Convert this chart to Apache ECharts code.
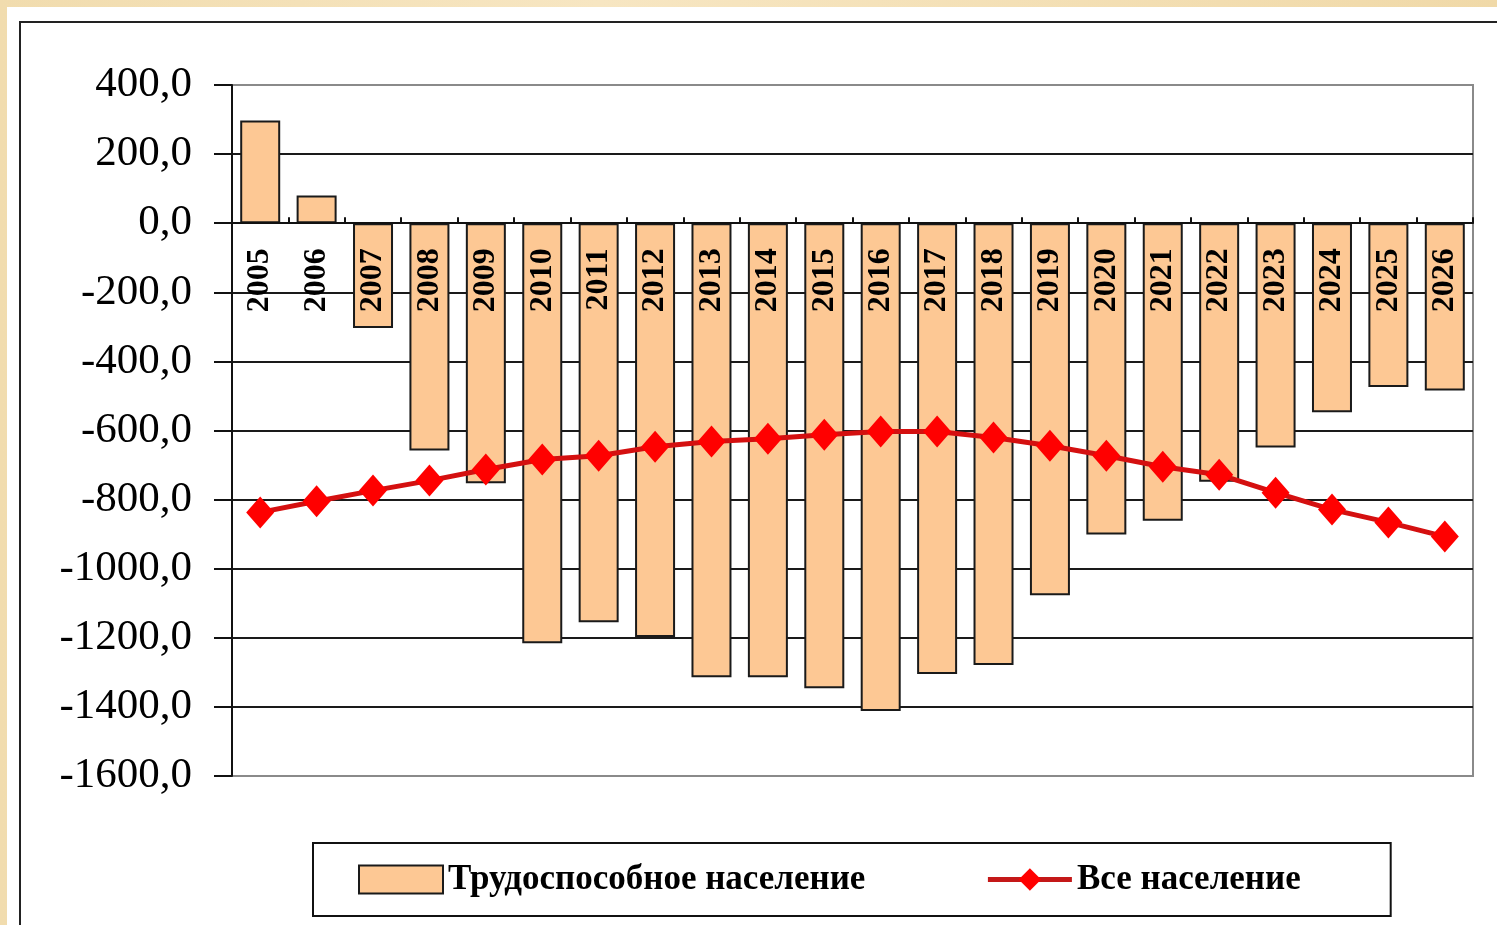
<!DOCTYPE html>
<html>
<head>
<meta charset="utf-8">
<script src="https://cdn.jsdelivr.net/npm/echarts@6/dist/echarts.min.js"></script>
<style>
  html, body {
    margin: 0;
    padding: 0;
    width: 1497px;
    height: 925px;
    overflow: hidden;
    background: linear-gradient(90deg, #f1dcae 0%, #f7e6c2 40%, #f0d9a8 100%);
  }
  .sheet {
    position: absolute;
    left: 7px;
    top: 7px;
    right: 0;
    bottom: 0;
    background: #ffffff;
  }
  .frame {
    position: absolute;
    left: 19px;
    top: 21px;
    width: 2000px;
    height: 2000px;
    border: 2px solid #222;
  }
  #chart {
    position: absolute;
    left: 0;
    top: 0;
    width: 1497px;
    height: 925px;
  }
</style>
</head>
<body>
<div class="sheet"></div>
<div class="frame"></div>
<div id="chart"></div>
<script>
  const years = ['2005', '2006', '2007', '2008', '2009', '2010', '2011', '2012', '2013', '2014', '2015',
    '2016', '2017', '2018', '2019', '2020', '2021', '2022', '2023', '2024', '2025', '2026']

  // Трудоспособное население
  const workingAge = [297, 80, -303, -658, -753, -1216, -1155, -1198, -1314, -1314, -1346,
    -1412, -1305, -1279, -1077, -901, -861, -748, -649, -547, -474, -484]

  // Все население
  const allPopulation = [-837, -805, -774, -745, -713, -684, -673, -647, -632, -624, -612,
    -603, -603, -620, -644, -673, -705, -728, -780, -829, -866, -907]

  const seriesNames = ['Трудоспособное население', 'Все население']

  const serif = "'Liberation Serif', 'Times New Roman', serif"

  const yMin = -1600
  const yMax = 400
  const gridTop = 85
  const gridBottom = 149
  const chartHeight = 925

  const chart = echarts.init(document.getElementById('chart'))

  // верхняя и нижняя линии сетки серые, как рамка области построения
  const splitColors = []
  for (let i = 0; i <= 10; i++) {
    splitColors.push(i === 0 || i === 10 ? '#8a8a8a' : '#1a1a1a')
  }

  // onZero в v6 не сработал — сдвигаем ось категорий к нулю через offset
  const plotHeight = chartHeight - gridTop - gridBottom
  const zeroOffset = -plotHeight * (0 - yMin) / (yMax - yMin)

  const option = {
    animation: false,
    backgroundColor: 'transparent',
    grid: {
      left: 232,
      right: 24,
      top: gridTop,
      bottom: gridBottom,
      show: true,
      backgroundColor: 'transparent',
      borderColor: '#8a8a8a',
      borderWidth: 2,
    },
    legend: {
      data: [
        { name: seriesNames[0], icon: 'rect' },
        { name: seriesNames[1], lineStyle: { width: 5, color: '#c41818' } },
      ],
      left: 313,
      top: 843,
      padding: [19, 90, 19, 45],
      itemGap: 120,
      itemWidth: 84,
      itemHeight: 28,
      borderColor: '#111',
      borderWidth: 2,
      backgroundColor: '#fff',
      textStyle: {
        fontFamily: serif,
        fontSize: 35,
        fontWeight: 'bold',
        color: '#000',
      },
    },
    xAxis: {
      type: 'category',
      data: years,
      position: 'bottom',
      offset: zeroOffset,
      z: 10,
      axisLine: {
        onZero: false,
        lineStyle: { color: '#111', width: 2 },
      },
      axisTick: {
        show: true,
        inside: true,
        length: 6,
        alignWithLabel: false,
        lineStyle: { color: '#111', width: 2 },
      },
      axisLabel: {
        interval: 0,
        rotate: 90,
        margin: 25,
        fontFamily: serif,
        fontSize: 32,
        fontWeight: 'bold',
        color: '#000',
      },
      splitLine: { show: false },
    },
    yAxis: {
      type: 'value',
      min: yMin,
      max: yMax,
      interval: 200,
      axisLine: {
        show: true,
        lineStyle: { color: '#111', width: 2 },
      },
      axisTick: {
        show: true,
        length: 18,
        lineStyle: { color: '#111', width: 2 },
      },
      axisLabel: {
        margin: 40,
        fontFamily: serif,
        fontSize: 43,
        color: '#000',
        formatter: (v) => v.toFixed(1).replace('.', ','),
      },
      splitLine: {
        show: true,
        lineStyle: { color: splitColors, width: 2 },
      },
    },
    series: [
      {
        name: seriesNames[0],
        type: 'bar',
        data: workingAge,
        barWidth: 40,
        z: 2,
        itemStyle: {
          color: '#fdc894',
          borderColor: '#1a1a1a',
          borderWidth: 2,
        },
      },
      {
        name: seriesNames[1],
        type: 'line',
        data: allPopulation,
        z: 12,
        symbol: 'diamond',
        symbolSize: [28, 32],
        lineStyle: { color: '#d41010', width: 5 },
        itemStyle: { color: '#ff0000' },
      },
    ],
  }

  chart.setOption(option)
</script>
</body>
</html>
